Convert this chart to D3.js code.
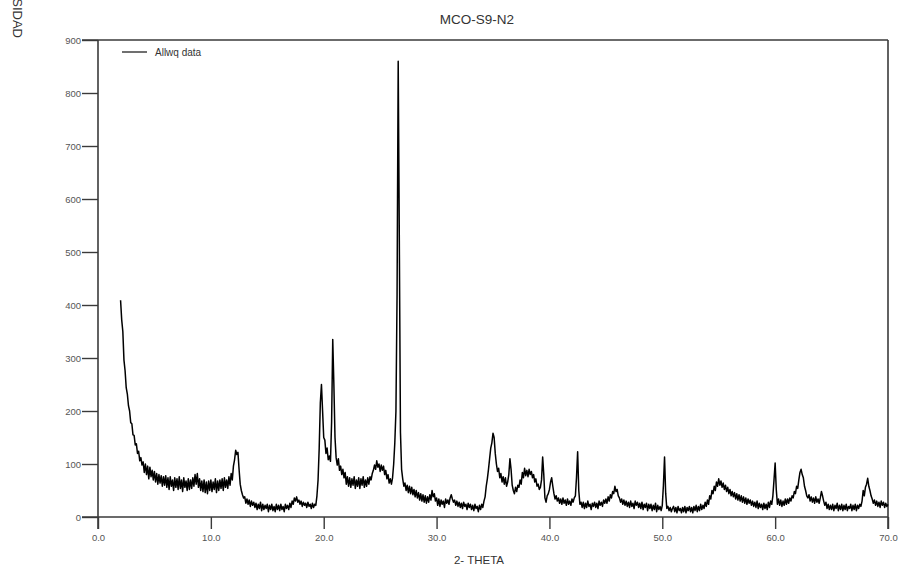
<!DOCTYPE html>
<meta charset="utf-8">

<!-- Load d3.js -->
<script src="https://d3js.org/d3.v7.min.js"></script>

<style>
  body { margin: 0; background: #fff; }
  text { font-family: "Liberation Sans", Arial, sans-serif; }
</style>

<!-- Create a div where the graph will take place -->
<div id="my_dataviz"></div>

<script>

// scan settings: 2-theta from 2.0 to 70.0, one reading every 0.1 degree
var scanStart = 2.0;
var scanStep = 0.1;

// intensity readings, one row per degree (N.0 ... N.9)
var intensity = [
  409, 372, 350, 296, 276, 244, 232, 210, 200, 178,   // 2
  176, 155, 154, 136, 138, 120, 124, 106, 112, 98,    // 3
  104, 84, 100, 80, 96, 72, 94, 76, 88, 70,           // 4
  86, 66, 82, 62, 80, 64, 78, 58, 76, 60,             // 5
  78, 56, 74, 52, 76, 58, 70, 50, 74, 56,             // 6
  72, 52, 76, 54, 70, 48, 74, 56, 68, 50,             // 7
  72, 52, 70, 54, 74, 58, 80, 62, 82, 56,             // 8
  72, 50, 68, 48, 70, 46, 66, 44, 68, 50,             // 9
  70, 48, 66, 52, 72, 46, 68, 50, 70, 54,             // 10
  72, 50, 74, 56, 70, 54, 76, 60, 82, 70,             // 11
  96, 108, 126, 118, 122, 90, 62, 50, 42, 36,         // 12
  38, 26, 34, 24, 32, 20, 30, 22, 28, 18,             // 13
  26, 14, 24, 16, 28, 12, 24, 14, 22, 16,             // 14
  24, 10, 22, 14, 24, 12, 20, 10, 24, 14,             // 15
  22, 12, 24, 14, 20, 10, 24, 16, 22, 14,             // 16
  26, 18, 30, 24, 36, 30, 38, 28, 32, 24,             // 17
  30, 20, 28, 22, 26, 18, 28, 20, 24, 16,             // 18
  26, 18, 24, 22, 40, 70, 130, 215, 250, 200,         // 19
  150, 145, 120, 130, 108, 115, 105, 180, 335, 250,   // 20
  150, 112, 98, 110, 88, 96, 80, 90, 74, 84,          // 21
  62, 76, 58, 74, 56, 72, 60, 76, 54, 70,             // 22
  58, 74, 54, 72, 60, 76, 56, 70, 58, 74,             // 23
  62, 76, 70, 82, 88, 98, 90, 106, 94, 100,           // 24
  86, 98, 88, 96, 80, 88, 72, 80, 64, 72,             // 25
  62, 74, 100, 140, 200, 420, 860, 520, 160, 90,      // 26
  72, 58, 64, 50, 60, 46, 58, 44, 56, 42,             // 27
  52, 38, 50, 36, 46, 32, 44, 30, 42, 28,             // 28
  40, 26, 38, 28, 42, 32, 50, 38, 44, 30,             // 29
  36, 22, 34, 20, 32, 24, 30, 18, 34, 26,             // 30
  32, 24, 36, 42, 34, 28, 32, 22, 30, 20,             // 31
  28, 18, 26, 16, 28, 20, 24, 14, 26, 18,             // 32
  24, 14, 22, 12, 24, 16, 20, 10, 22, 14,             // 33
  24, 18, 30, 38, 58, 72, 90, 110, 130, 140,          // 34
  158, 150, 120, 100, 86, 92, 74, 82, 66, 76,         // 35
  62, 74, 58, 66, 80, 110, 90, 60, 50, 44,            // 36
  56, 48, 60, 56, 70, 62, 84, 74, 92, 78,             // 37
  88, 76, 90, 80, 86, 74, 80, 66, 72, 58,             // 38
  62, 52, 56, 70, 113, 80, 36, 28, 40, 44,            // 39
  52, 66, 74, 58, 44, 34, 40, 30, 36, 26,             // 40
  34, 24, 36, 26, 32, 22, 34, 24, 30, 22,             // 41
  34, 28, 36, 40, 75, 123, 50, 24, 28, 18,            // 42
  28, 16, 26, 18, 30, 20, 24, 14, 26, 20,             // 43
  28, 18, 26, 16, 30, 22, 28, 20, 32, 26,             // 44
  34, 26, 38, 30, 42, 36, 48, 44, 58, 48,             // 45
  52, 40, 36, 28, 34, 24, 32, 22, 30, 20,             // 46
  28, 18, 30, 20, 26, 16, 30, 22, 28, 18,             // 47
  26, 16, 28, 14, 24, 18, 26, 12, 24, 16,             // 48
  24, 12, 22, 14, 26, 10, 22, 14, 20, 12,             // 49
  22, 60, 113, 45, 16, 20, 12, 18, 10, 16,            // 50
  20, 10, 18, 8, 20, 12, 16, 8, 18, 10,               // 51
  20, 8, 18, 12, 20, 10, 18, 8, 20, 12,               // 52
  22, 10, 20, 12, 24, 14, 22, 16, 28, 20,             // 53
  32, 24, 40, 34, 50, 44, 58, 50, 66, 58,             // 54
  72, 60, 68, 56, 64, 52, 60, 48, 56, 44,             // 55
  52, 40, 48, 38, 46, 34, 44, 32, 42, 30,             // 56
  40, 28, 38, 26, 36, 24, 34, 26, 32, 22,             // 57
  30, 20, 28, 18, 30, 16, 26, 18, 24, 14,             // 58
  26, 16, 24, 14, 28, 18, 30, 24, 40, 70,             // 59
  102, 52, 24, 34, 22, 32, 20, 30, 22, 34,            // 60
  24, 34, 26, 36, 30, 40, 36, 48, 44, 58,             // 61
  54, 70, 84, 90, 80, 74, 58, 50, 40, 36,             // 62
  42, 30, 38, 28, 36, 26, 38, 28, 34, 26,             // 63
  36, 48, 40, 30, 22, 28, 16, 24, 14, 22,             // 64
  14, 24, 12, 22, 16, 26, 12, 22, 14, 24,             // 65
  12, 22, 14, 24, 12, 20, 16, 24, 12, 22,             // 66
  14, 24, 12, 22, 16, 24, 20, 30, 50, 40,             // 67
  56, 62, 73, 58, 50, 40, 34, 26, 32, 22,             // 68
  30, 20, 28, 18, 30, 22, 28, 18, 26, 20,             // 69
  24                                                  // 70
];

// tick labels
var xTicks = [0, 10, 20, 30, 40, 50, 60, 70];
var yTicks = [0, 100, 200, 300, 400, 500, 600, 700, 800, 900];

var chartTitle = "MCO-S9-N2";
var xTitle = "2- THETA";
var yTitle = "INTENSIDAD";
var legendLabel = "Allwq data";

// pair each reading with its angle
var data = intensity.map(function(v, i) {
  return { x: +(scanStart + i * scanStep).toFixed(1), y: v };
});

// dimensions of the plot box
var width = 910, height = 568;
var plotLeft = 98, plotRight = 888, plotTop = 40, plotBottom = 517;
var axisColor = "#3a3a3a";

var svg = d3.select("#my_dataviz")
  .append("svg")
    .attr("width", width)
    .attr("height", height)
    .style("background", "#fff");

// scales
var x = d3.scaleLinear()
  .domain([0, 70])
  .range([plotLeft, plotRight]);

var y = d3.scaleLinear()
  .domain([0, 900])
  .range([plotBottom, plotTop]);

// X axis
var xAxis = svg.append("g")
  .attr("transform", "translate(0," + plotBottom + ")")
  .call(d3.axisBottom(x)
    .tickValues(xTicks)
    .tickSize(12)
    .tickPadding(5)
    .tickFormat(d3.format(".1f")));

// Y axis
var yAxis = svg.append("g")
  .attr("transform", "translate(" + plotLeft + ",0)")
  .call(d3.axisLeft(y)
    .tickValues(yTicks)
    .tickSize(16)
    .tickPadding(1));

[xAxis, yAxis].forEach(function(g) {
  g.select(".domain").remove();
  g.selectAll("line").attr("stroke", axisColor).attr("stroke-width", 1.4);
  g.selectAll("text")
    .attr("fill", "#555")
    .style("font-size", "9.5px")
    .style("font-family", "Liberation Sans, Arial, sans-serif");
});

// frame lines
svg.append("line")
  .attr("x1", plotLeft - 16).attr("x2", plotRight)
  .attr("y1", plotBottom).attr("y2", plotBottom)
  .attr("stroke", axisColor).attr("stroke-width", 1.6);
svg.append("line")
  .attr("x1", plotLeft).attr("x2", plotLeft)
  .attr("y1", plotTop).attr("y2", plotBottom + 12)
  .attr("stroke", axisColor).attr("stroke-width", 1.6);
svg.append("line")
  .attr("x1", plotLeft - 16).attr("x2", plotRight)
  .attr("y1", plotTop).attr("y2", plotTop)
  .attr("stroke", axisColor).attr("stroke-width", 1.6);
svg.append("line")
  .attr("x1", plotRight).attr("x2", plotRight)
  .attr("y1", plotTop).attr("y2", plotBottom + 12)
  .attr("stroke", axisColor).attr("stroke-width", 1.6);

// the pattern
svg.append("path")
  .datum(data)
  .attr("fill", "none")
  .attr("stroke", "#000")
  .attr("stroke-width", 1.5)
  .attr("stroke-linejoin", "round")
  .attr("d", d3.line()
    .x(function(d) { return x(d.x); })
    .y(function(d) { return y(d.y); }));

// legend
svg.append("line")
  .attr("x1", 122).attr("x2", 147)
  .attr("y1", 52).attr("y2", 52)
  .attr("stroke", "#222").attr("stroke-width", 1.3);
svg.append("text")
  .attr("x", 155).attr("y", 55.5)
  .text(legendLabel)
  .style("font-size", "10px")
  .attr("fill", "#333");

// titles
svg.append("text")
  .attr("x", 477).attr("y", 24)
  .attr("text-anchor", "middle")
  .text(chartTitle)
  .style("font-size", "13.5px")
  .attr("fill", "#333");

svg.append("text")
  .attr("x", 479).attr("y", 564)
  .attr("text-anchor", "middle")
  .text(xTitle)
  .style("font-size", "11.5px")
  .attr("fill", "#333");

svg.append("text")
  .attr("transform", "translate(13,38)rotate(90)")
  .attr("text-anchor", "end")
  .text(yTitle)
  .style("font-size", "13px")
  .attr("fill", "#333");

</script>
